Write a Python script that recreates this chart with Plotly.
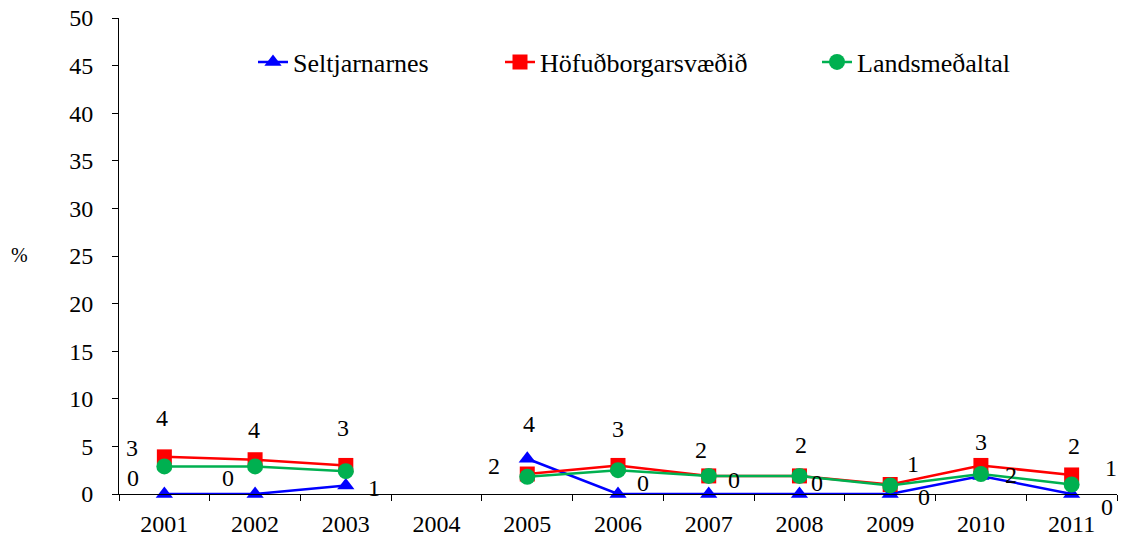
import plotly.graph_objects as go

years = ["2001", "2002", "2003", "2004", "2005", "2006", "2007", "2008", "2009", "2010", "2011"]
seltjarnarnes = [0, 0, 0.9, None, 3.7, 0, 0, 0, 0, 1.9, 0]
hofudborgarsvaedid = [3.9, 3.6, 3.0, None, 2.1, 3.0, 1.9, 1.9, 1.0, 3.0, 2.0]
landsmedaltal = [2.9, 2.9, 2.4, None, 1.8, 2.5, 1.9, 1.9, 0.9, 2.1, 1.0]

labels_selt = ["0", "0", "1", "", "4", "0", "0", "0", "0", "2", "0"]
labels_hofud = ["4", "4", "3", "", "2", "3", "2", "2", "1", "3", "2"]
labels_lands = ["3", "", "", "", "", "", "", "", "", "", "1"]

y_ticks = [0, 5, 10, 15, 20, 25, 30, 35, 40, 45, 50]

FONT = "Liberation Serif"
FS = 24
LEG_FS = 26

# label offsets in screen pixels (dx, dy down)
off_selt = [(-31, -16), (-27, -16), (28, 3), None, (2, -35), (25, -11), (25, -14), (18, -11), (34, 3), (30, -1), (35, 13)]
off_hofud = [(-2, -39), (-1, -30), (-3, -37), None, (-33, -8), (0, -36), (-8, -26), (2, -31), (23, -20), (0, -23), (2, -29)]
off_lands = [(-32, -18), None, None, None, None, None, None, None, None, None, (39, -16)]

fig = go.Figure()

series = [
    ("Seltjarnarnes", seltjarnarnes, "#0000FF", "triangle-up", 15, "legend"),
    ("Höfuðborgarsvæðið", hofudborgarsvaedid, "#FF0000", "square", 15, "legend2"),
    ("Landsmeðaltal", landsmedaltal, "#00B050", "circle", 16, "legend3"),
]
for name, vals, col, sym, size, lg in series:
    fig.add_trace(go.Scatter(
        x=years, y=vals, name=name, mode="lines+markers",
        line=dict(color=col, width=2.5),
        marker=dict(color=col, symbol=sym, size=size),
        connectgaps=False, legend=lg, cliponaxis=False,
    ))

L, T = 119, 18      # plot-area left/top in the screenshot
R_EDGE, B_EDGE = 1117, 494
W, H = 1121, 550
PW, PH = R_EDGE - L, B_EDGE - T

def px_x(px):
    return (px - L) / PW

def px_y(py):
    return (B_EDGE - py) / PH

annotations = []
for vals, labs, offs in [(seltjarnarnes, labels_selt, off_selt),
                         (hofudborgarsvaedid, labels_hofud, off_hofud),
                         (landsmedaltal, labels_lands, off_lands)]:
    for i, (v, t, o) in enumerate(zip(vals, labs, offs)):
        if v is None or t == "" or o is None:
            continue
        annotations.append(dict(
            x=i, y=v, xref="x", yref="y", text=t, showarrow=False,
            xshift=o[0], yshift=-o[1], xanchor="center", yanchor="middle",
            font=dict(family=FONT, size=FS, color="black"),
        ))

annotations.append(dict(
    x=px_x(19), y=px_y(255), xref="paper", yref="paper", text="%", showarrow=False,
    xanchor="center", yanchor="middle",
    font=dict(family=FONT, size=20, color="black"),
))

leg_common = dict(orientation="h", yanchor="middle", xanchor="left",
                  font=dict(family=FONT, size=LEG_FS, color="black"),
                  bgcolor="rgba(0,0,0,0)", borderwidth=0)

fig.update_layout(
    width=W, height=H,
    margin=dict(l=L, r=W - R_EDGE, t=T, b=H - B_EDGE, autoexpand=False),
    paper_bgcolor="white", plot_bgcolor="white",
    font=dict(family=FONT, size=FS, color="black"),
    legend=dict(x=px_x(253), y=px_y(62), **leg_common),
    legend2=dict(x=px_x(500), y=px_y(62), **leg_common),
    legend3=dict(x=px_x(817), y=px_y(62), **leg_common),
    annotations=annotations,
    xaxis=dict(
        type="category", categoryorder="array", categoryarray=years,
        range=[-0.5, len(years) - 0.5],
        showline=True, linecolor="black", linewidth=1,
        ticks="outside", tickson="boundaries", ticklen=6, tickcolor="black",
        showgrid=False, zeroline=False, ticklabelstandoff=8,
        ticklabeloverflow="allow",
        tickfont=dict(family=FONT, size=FS, color="black"),
    ),
    yaxis=dict(
        range=[0, 50], tickvals=y_ticks,
        showline=True, linecolor="black", linewidth=1,
        ticks="outside", ticklen=6, tickcolor="black",
        showgrid=False, zeroline=False, ticklabelstandoff=14,
        ticklabeloverflow="allow",
        tickfont=dict(family=FONT, size=FS, color="black"),
    ),
    showlegend=True,
)

fig.write_html(
    "out.html",
    config={"displayModeBar": False},
    post_script="document.body.style.margin='0';document.body.style.padding='0';",
)
